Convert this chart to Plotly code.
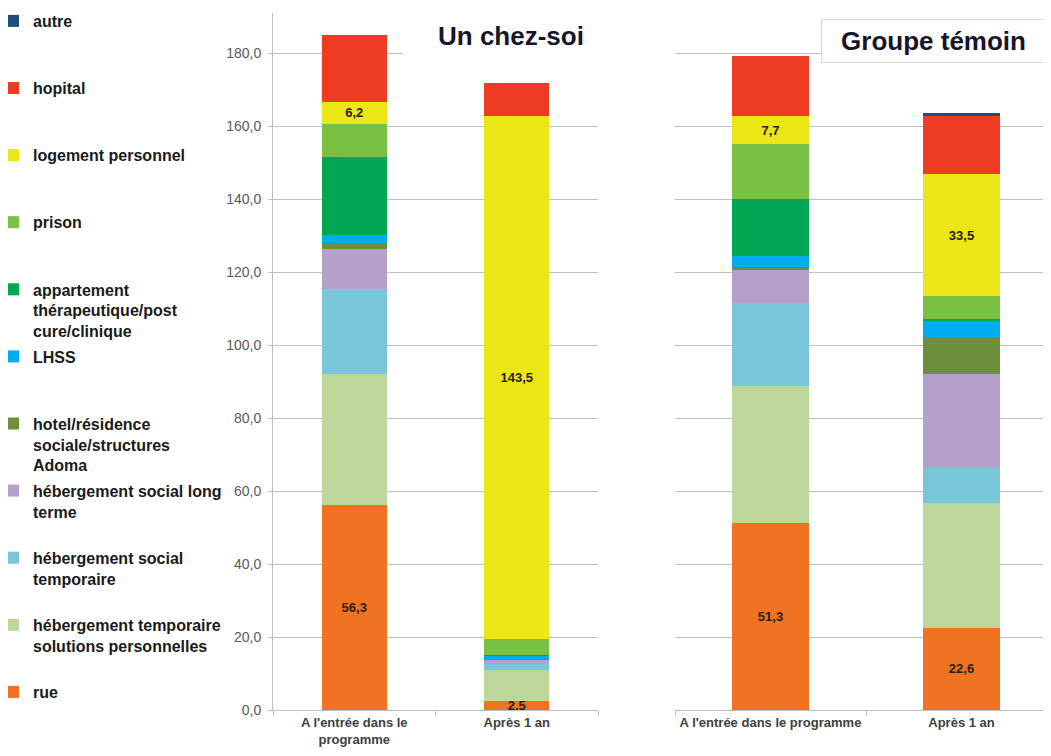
import plotly.graph_objects as go

# ---- data ----
groups = ["Un chez-soi", "Groupe témoin"]
periods = ["A l'entrée dans le programme", "Après 1 an"]
period_labels_left = ["A l'entrée dans le<br>programme", "Après 1 an"]
period_labels_right = ["A l'entrée dans le programme", "Après 1 an"]

# series listed bottom -> top of the stack
series_names = [
    "rue",
    "hébergement temporaire<br>solutions personnelles",
    "hébergement social<br>temporaire",
    "hébergement social long<br>terme",
    "hotel/résidence<br>sociale/structures<br>Adoma",
    "LHSS",
    "appartement<br>thérapeutique/post<br>cure/clinique",
    "prison",
    "logement personnel",
    "hopital",
    "autre",
]
series_colors = [
    "#F07324", "#BDD699", "#78C6D8", "#B4A0C8", "#6B8F3B", "#00AEEF",
    "#00A651", "#7AC143", "#EBE716", "#EE3B24", "#1F4E79",
]
# values: [Un chez-soi entrée, Un chez-soi après, Témoin entrée, Témoin après]
rue = [56.3, 2.5, 51.3, 22.6]
heb_temp_sol = [35.9, 8.5, 37.5, 34.2]
heb_social_temp = [23.1, 1.6, 22.6, 9.4]
heb_social_long = [11.1, 1.3, 9.3, 25.8]
hotel = [1.7, 0.2, 0.8, 10.1]
lhss = [2.1, 0.8, 3.0, 4.7]
appartement = [21.4, 0.3, 15.4, 0.3]
prison = [8.9, 4.2, 15.1, 6.3]
logement = [6.2, 143.5, 7.7, 33.5]
hopital = [18.3, 9.0, 16.5, 15.8]
autre = [0.0, 0.0, 0.0, 1.0]
series_values = [rue, heb_temp_sol, heb_social_temp, heb_social_long, hotel,
                 lhss, appartement, prison, logement, hopital, autre]
labelled = {"rue", "logement personnel"}

y_ticks = [0, 20, 40, 60, 80, 100, 120, 140, 160, 180]

# the page body has an 8px margin: figure coords = page coords - 8
OFF = 8
W, H = 1051 - OFF, 756 - OFF
PLOT_TOP, PLOT_BOT = 13 - OFF, 710 - OFF
PH = PLOT_BOT - PLOT_TOP

def px_x(p):  # page x -> paper x
    return (p - OFF) / W

def px_y(p):  # page y -> paper y
    return 1 - (p - OFF - PLOT_TOP) / PH

def fr(v):
    return f"{v:.1f}".replace(".", ",")

fig = go.Figure()
nlines_max = 3
for idx, (name, color, vals) in enumerate(zip(series_names, series_colors, series_values)):
    n = name.count("<br>") + 1
    legend_name = name + "<br>\u00a0" * (nlines_max - n)
    show_text = name in labelled
    for gi, (xa, ya) in enumerate([("x", "y"), ("x2", "y2")]):
        v = vals[gi * 2: gi * 2 + 2]
        fig.add_trace(go.Bar(
            x=periods,
            y=v,
            xaxis=xa, yaxis=ya,
            name=legend_name,
            legendgroup=name,
            legendrank=100 - idx,
            showlegend=(gi == 0),
            marker=dict(color=color, line=dict(width=0)),
            text=[fr(t) for t in v] if show_text else None,
            texttemplate="%{text}" if show_text else None,
            textposition="inside" if show_text else "none",
            insidetextanchor="middle",
            constraintext="none",
            textangle=0,
            textfont=dict(family="Liberation Sans", size=13, color="#2a2016", weight="bold"),
            hoverinfo="skip",
        ))

grid_col = "#BFBFBF"
fig.update_layout(
    width=W, height=H,
    margin=dict(l=0, r=0, t=PLOT_TOP, b=H - PLOT_BOT, autoexpand=False),
    paper_bgcolor="white", plot_bgcolor="white",
    barmode="stack", bargap=0.6,
    separators=", ",
    font=dict(family="Liberation Sans", color="#404040"),
    showlegend=True,
    legend=dict(
        x=-15 / W, xanchor="left", y=px_y(4), yanchor="top",
        traceorder="grouped", tracegroupgap=1.7,
        valign="top", maxheight=760,
        font=dict(family="Liberation Sans", size=16, color="#1A1A1A", weight="bold"),
        bgcolor="rgba(0,0,0,0)", borderwidth=0,
    ),
    xaxis=dict(
        domain=[px_x(273), px_x(598)], anchor="y", type="category",
        range=[-0.5, 1.5], automargin=False,
        tickmode="array", tickvals=periods, ticktext=period_labels_left,
        tickson="boundaries", ticks="outside", ticklen=5, tickcolor=grid_col,
        showline=True, linecolor=grid_col, linewidth=1, showgrid=False,
        tickangle=0,
        tickfont=dict(size=13, color="#404040", weight="bold"),
    ),
    yaxis=dict(
        domain=[0, 1], anchor="x", range=[0, 191], automargin=False,
        tickmode="array", tickvals=y_ticks, tickformat=".1f",
        ticks="outside", ticklen=4, tickcolor=grid_col,
        showline=True, linecolor=grid_col, linewidth=1,
        showgrid=True, gridcolor=grid_col, gridwidth=1, zeroline=False,
        tickfont=dict(size=14, color="#595959"),
        ticklabelstandoff=4,
    ),
    xaxis2=dict(
        domain=[px_x(675), 1.0], anchor="y2", type="category",
        range=[-0.5, 1.5 - 6 / 190.5], automargin=False,
        tickmode="array", tickvals=periods, ticktext=period_labels_right,
        tickson="boundaries", ticks="outside", ticklen=5, tickcolor=grid_col,
        showline=True, linecolor=grid_col, linewidth=1, showgrid=False,
        tickangle=0,
        tickfont=dict(size=13, color="#404040", weight="bold"),
    ),
    yaxis2=dict(
        domain=[0, 1], anchor="x2", range=[0, 191], automargin=False,
        tickmode="array", tickvals=y_ticks, showticklabels=False,
        showline=False, showgrid=True, gridcolor=grid_col, gridwidth=1,
        zeroline=False,
    ),
)

fig.add_annotation(
    xref="paper", yref="paper", x=px_x(511), y=px_y(36),
    xanchor="center", yanchor="middle",
    text="Un chez-soi", showarrow=False,
    width=214, height=42, bgcolor="white", borderwidth=0,
    font=dict(family="Liberation Sans", size=26, color="#16162A", weight="bold"),
)
fig.add_annotation(
    xref="paper", yref="paper", x=px_x(933.5), y=px_y(41),
    xanchor="center", yanchor="middle",
    text="Groupe témoin", showarrow=False,
    width=221, height=40, bgcolor="white", bordercolor="#D9D9D9", borderwidth=1, borderpad=1,
    font=dict(family="Liberation Sans", size=26, color="#16162A", weight="bold"),
)

fig.write_html("out.html")
